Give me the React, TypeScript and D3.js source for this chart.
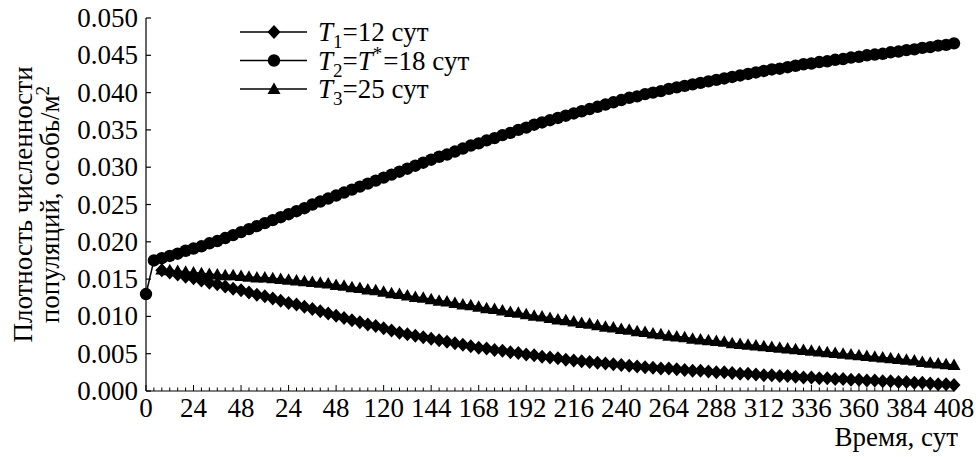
import React, { useEffect, useRef } from 'react';
import * as d3 from 'd3';

// time grid, days (step 4)
const DAYS = [
  0, 4, 8, 12, 16, 20, 24, 28, 32, 36,
  40, 44, 48, 52, 56, 60, 64, 68, 72, 76,
  80, 84, 88, 92, 96, 100, 104, 108, 112, 116,
  120, 124, 128, 132, 136, 140, 144, 148, 152, 156,
  160, 164, 168, 172, 176, 180, 184, 188, 192, 196,
  200, 204, 208, 212, 216, 220, 224, 228, 232, 236,
  240, 244, 248, 252, 256, 260, 264, 268, 272, 276,
  280, 284, 288, 292, 296, 300, 304, 308, 312, 316,
  320, 324, 328, 332, 336, 340, 344, 348, 352, 356,
  360, 364, 368, 372, 376, 380, 384, 388, 392, 396,
  400, 404, 408,
];

// T2 = T* = 18 сут, starts at day 0
const T2_VALUES = [
  0.0130, 0.0175, 0.0178, 0.0181, 0.0184, 0.0188, 0.0191, 0.0194, 0.0198, 0.0201,
  0.0205, 0.0209, 0.0213, 0.0217, 0.0221, 0.0225, 0.0229, 0.0233, 0.0237, 0.0241,
  0.0245, 0.0250, 0.0254, 0.0258, 0.0262, 0.0266, 0.0270, 0.0274, 0.0278, 0.0282,
  0.0286, 0.0290, 0.0294, 0.0298, 0.0302, 0.0306, 0.0310, 0.0314, 0.0317, 0.0321,
  0.0325, 0.0329, 0.0332, 0.0336, 0.0339, 0.0343, 0.0346, 0.0350, 0.0353, 0.0357,
  0.0360, 0.0363, 0.0366, 0.0369, 0.0372, 0.0375, 0.0378, 0.0381, 0.0384, 0.0387,
  0.0390, 0.0393, 0.0395, 0.0398, 0.0400, 0.0402, 0.0405, 0.0407, 0.0409, 0.0411,
  0.0413, 0.0415, 0.0417, 0.0419, 0.0421, 0.0423, 0.0425, 0.0427, 0.0429, 0.0431,
  0.0432, 0.0434, 0.0436, 0.0438, 0.0439, 0.0441, 0.0442, 0.0444, 0.0445, 0.0447,
  0.0448, 0.0450, 0.0451, 0.0452, 0.0454, 0.0455, 0.0457, 0.0458, 0.0460, 0.0461,
  0.0463, 0.0464, 0.0466,
];

// T1 = 12 сут, starts at day 8
const T1_VALUES = [
  0.0162, 0.0159, 0.0156, 0.0153, 0.0151, 0.0148, 0.0145, 0.0143, 0.0140, 0.0137,
  0.0135, 0.0132, 0.0129, 0.0127, 0.0124, 0.0121, 0.0118, 0.0116, 0.0113, 0.0110,
  0.0107, 0.0104, 0.0101, 0.0098, 0.0095, 0.0092, 0.0089, 0.0087, 0.0084, 0.0081,
  0.0078, 0.0076, 0.0074, 0.0072, 0.0070, 0.0068, 0.0066, 0.0064, 0.0062, 0.0060,
  0.0058, 0.0057, 0.0055, 0.0054, 0.0052, 0.0051, 0.0049, 0.0048, 0.0046, 0.0045,
  0.0044, 0.0042, 0.0041, 0.0040, 0.0039, 0.0038, 0.0037, 0.0036, 0.0035, 0.0034,
  0.0033, 0.0032, 0.0031, 0.0030, 0.0030, 0.0029, 0.0028, 0.0027, 0.0027, 0.0026,
  0.0025, 0.0025, 0.0024, 0.0023, 0.0023, 0.0022, 0.0021, 0.0021, 0.0020, 0.0020,
  0.0019, 0.0018, 0.0018, 0.0017, 0.0017, 0.0016, 0.0016, 0.0015, 0.0015, 0.0014,
  0.0014, 0.0013, 0.0013, 0.0012, 0.0012, 0.0011, 0.0011, 0.0010, 0.0009, 0.0009,
  0.0008,
];

// T3 = 25 сут, starts at day 8
const T3_VALUES = [
  0.0163, 0.0162, 0.0161, 0.0160, 0.0159, 0.0158, 0.0157, 0.0156, 0.0155, 0.0155,
  0.0154, 0.0153, 0.0152, 0.0152, 0.0151, 0.0150, 0.0149, 0.0148, 0.0147, 0.0146,
  0.0145, 0.0144, 0.0142, 0.0141, 0.0139, 0.0138, 0.0136, 0.0135, 0.0133, 0.0131,
  0.0130, 0.0128, 0.0126, 0.0125, 0.0123, 0.0121, 0.0120, 0.0118, 0.0116, 0.0115,
  0.0113, 0.0111, 0.0110, 0.0108, 0.0106, 0.0105, 0.0103, 0.0101, 0.0100, 0.0098,
  0.0096, 0.0095, 0.0093, 0.0091, 0.0090, 0.0088, 0.0086, 0.0085, 0.0083, 0.0082,
  0.0080, 0.0079, 0.0077, 0.0076, 0.0074, 0.0073, 0.0072, 0.0070, 0.0069, 0.0068,
  0.0067, 0.0066, 0.0064, 0.0063, 0.0062, 0.0061, 0.0060, 0.0059, 0.0058, 0.0057,
  0.0056, 0.0055, 0.0054, 0.0053, 0.0052, 0.0051, 0.0050, 0.0049, 0.0048, 0.0047,
  0.0046, 0.0045, 0.0044, 0.0043, 0.0042, 0.0041, 0.0039, 0.0038, 0.0037, 0.0036,
  0.0035,
];

const X_TICK_VALUES = [0, 24, 48, 72, 96, 120, 144, 168, 192, 216, 240, 264, 288, 312, 336, 360, 384, 408];
// labels as printed in the original figure
const X_TICK_LABELS = ['0', '24', '48', '24', '48', '120', '144', '168', '192', '216', '240', '264', '288', '312', '336', '360', '384', '408'];
const Y_TICK_VALUES = [0, 0.005, 0.01, 0.015, 0.02, 0.025, 0.03, 0.035, 0.04, 0.045, 0.05];

const W = 976;
const H = 457;
const FONT = 'Liberation Serif';
const FS = 27;

const x = d3.scaleLinear().domain([0, 408]).range([146, 954]);
const y = d3.scaleLinear().domain([0, 0.05]).range([391, 18]);

const diamond = 'M0,-7L6.5,0L0,7L-6.5,0Z';
const triangle = 'M0,-6.5L6.5,5L-6.5,5Z';

const line = d3.line<[number, number]>()
  .x(d => x(d[0]))
  .y(d => y(d[1]));

const Marker = ({ kind, cx, cy }: { kind: string; cx: number; cy: number }) => {
  if (kind === 'circle') return <circle cx={cx} cy={cy} r={6.2} fill="#000" />;
  return <path d={kind === 'diamond' ? diamond : triangle} transform={`translate(${cx},${cy})`} fill="#000" />;
};

const series = [
  { key: 't3', kind: 'triangle', points: T3_VALUES.map((v, i) => [DAYS[i + 2], v] as [number, number]) },
  { key: 't1', kind: 'diamond', points: T1_VALUES.map((v, i) => [DAYS[i + 2], v] as [number, number]) },
  { key: 't2', kind: 'circle', points: T2_VALUES.map((v, i) => [DAYS[i], v] as [number, number]) },
];

const legend = [
  { kind: 'diamond', sub: '1', rest: '=12 сут', star: false },
  { kind: 'circle', sub: '2', rest: '=18 сут', star: true },
  { kind: 'triangle', sub: '3', rest: '=25 сут', star: false },
];

export default function App() {
  const textRef = useRef<SVGGElement>(null);

  // all text is added with d3
  useEffect(() => {
    const g = d3.select(textRef.current);
    g.selectAll('*').remove();
    g.attr('font-family', FONT).style('font-family', FONT).attr('font-size', FS).attr('fill', '#000');

    g.selectAll('text.ylab')
      .data(Y_TICK_VALUES)
      .join('text')
      .attr('class', 'ylab')
      .attr('x', x(0) - 8)
      .attr('y', d => y(d) + 9)
      .attr('text-anchor', 'end')
      .text(d => d3.format('.3f')(d));

    g.selectAll('text.xlab')
      .data(X_TICK_VALUES)
      .join('text')
      .attr('class', 'xlab')
      .attr('x', d => x(d))
      .attr('y', y(0) + 26)
      .attr('text-anchor', 'middle')
      .text((d, i) => X_TICK_LABELS[i]);

    g.append('text').attr('x', 958).attr('y', 446).attr('text-anchor', 'end').text('Время, сут');

    g.append('text')
      .attr('transform', `translate(32,${y(0.025)}) rotate(-90)`)
      .attr('text-anchor', 'middle')
      .text('Плотность численности');
    const t2 = g.append('text')
      .attr('transform', `translate(59,${y(0.025)}) rotate(-90)`)
      .attr('text-anchor', 'middle');
    t2.append('tspan').text('популяций, особь/м');
    t2.append('tspan').attr('dy', -10).attr('font-size', 19).text('2');

    legend.forEach((l, i) => {
      const ly = 32 + i * 28.5;
      const t = g.append('text').attr('x', 318).attr('y', ly + 9);
      t.append('tspan').attr('font-style', 'italic').text('T');
      t.append('tspan').attr('dy', 7).attr('font-size', 19).text(l.sub);
      if (l.star) {
        t.append('tspan').attr('dy', -7).text('=');
        t.append('tspan').attr('font-style', 'italic').text('T');
        t.append('tspan').attr('dy', -10).attr('font-size', 19).text('*');
        t.append('tspan').attr('dy', 10).attr('dx', 1).text(l.rest);
      } else {
        t.append('tspan').attr('dy', -7).text(l.rest);
      }
    });
  }, []);

  return (
    <svg width={W} height={H} style={{ position: 'absolute', left: 0, top: 0 }}>
      {/* y axis */}
      <line x1={x(0)} x2={x(0)} y1={y(0.05)} y2={y(0)} stroke="#000" strokeWidth={1.2} />
      {Y_TICK_VALUES.map(v => (
        <line key={'yt' + v} x1={x(0)} x2={x(0) + 5} y1={y(v)} y2={y(v)} stroke="#000" strokeWidth={1.2} />
      ))}

      {/* x axis */}
      <line x1={x(0)} x2={x(408)} y1={y(0)} y2={y(0)} stroke="#000" strokeWidth={1.2} />
      {DAYS.map(d => (
        <line key={d} x1={x(d)} x2={x(d)} y1={y(0)} y2={y(0) - (d % 24 === 0 ? 6 : 3.5)} stroke="#000" strokeWidth={1} />
      ))}

      {/* series */}
      {series.map(s => (
        <g key={s.key}>
          <path d={line(s.points) || ''} fill="none" stroke="#000" strokeWidth={1.5} />
          {s.points.map((p, i) => (
            <Marker key={i} kind={s.kind} cx={x(p[0])} cy={y(p[1])} />
          ))}
        </g>
      ))}

      {/* legend marks */}
      {legend.map((l, i) => {
        const ly = 32 + i * 28.5;
        return (
          <g key={l.sub}>
            <line x1={240} x2={307} y1={ly} y2={ly} stroke="#000" strokeWidth={1.5} />
            <Marker kind={l.kind} cx={274} cy={ly} />
          </g>
        );
      })}

      <g ref={textRef} />
    </svg>
  );
}
